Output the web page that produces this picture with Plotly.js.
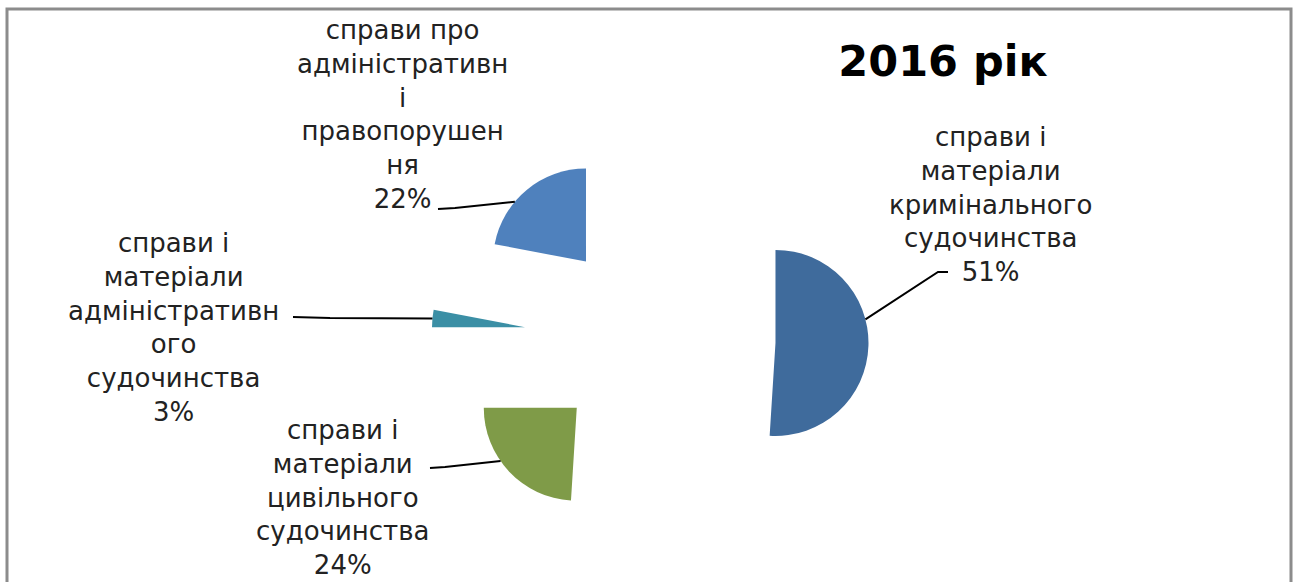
<!DOCTYPE html>
<html><head><meta charset="utf-8">
<script src="https://cdn.plot.ly/plotly-3.0.1.min.js"></script>
<style>html,body{margin:0;padding:0;background:#fff}#chart{width:1295px;height:582px}</style>
</head><body><div id="chart"></div>
<script>
// ---- data ----
const categories = [
  "справи і матеріали кримінального судочинства",
  "справи і матеріали цивільного судочинства",
  "справи і матеріали адміністративного судочинства",
  "справи про адміністративні правопорушення"
];
const labelLines = [
  ["справи і", "матеріали", "кримінального", "судочинства"],
  ["справи і", "матеріали", "цивільного", "судочинства"],
  ["справи і", "матеріали", "адміністративн", "ого", "судочинства"],
  ["справи про", "адміністративн", "і", "правопорушен", "ня"]
];
const values = [51, 24, 3, 22];
const chartTitle = "2016 рік";

// ---- styling / layout ----
const colors = ["#3F6B9C", "#7F9B48", "#3B8FA5", "#4F81BD"];
const W = 1295, H = 582;
const pulls = [1.35, 1.08, 1.35, 1.08];
const cx = 650, cy = 339, R = 93;
const maxPull = Math.max(...pulls);
const half = R * (1 + maxPull);
const domX = [(cx - half) / W, (cx + half) / W];
const domY = [1 - (cy + half) / H, 1 - (cy - half) / H];

// label placement (px) and leader settings
const labelPos = [[990, 204], [343, 497], [173, 327], [402, 115]];
const leaderStart = [[948, 272], [430, 468], [293, 317], [438, 209]];
const leaderElbow = [[938, 272], [445, 467], [330, 318], [455, 208]];
const leaderFrac = [0.41, 0.595, 0.5, 0.37];

const total = values.reduce((a, b) => a + b, 0);
const px = (x) => x / W;
const py = (y) => 1 - y / H;

const annotations = [];
const shapes = [];
let cum = 0;
values.forEach((v, i) => {
  const a0 = cum / total * 360;
  const a1 = (cum + v) / total * 360;
  cum += v;
  const mid = (a0 + a1) / 2 * Math.PI / 180;
  const scx = cx + pulls[i] * R * Math.sin(mid);
  const scy = cy - pulls[i] * R * Math.cos(mid);
  const th = (a0 + (a1 - a0) * leaderFrac[i]) * Math.PI / 180;
  const ex = scx + R * Math.sin(th);
  const ey = scy - R * Math.cos(th);
  const pct = Math.round(v / total * 100) + "%";
  annotations.push({
    xref: "paper", yref: "paper",
    x: px(labelPos[i][0]), y: py(labelPos[i][1]),
    xanchor: "center", yanchor: "middle", align: "center",
    showarrow: false,
    text: labelLines[i].concat([pct]).join("<br>"),
    font: {family: "DejaVu Sans", size: 26, color: "#222222"}
  });
  const s = leaderStart[i], e = leaderElbow[i];
  shapes.push({
    type: "path", xref: "paper", yref: "paper",
    path: `M ${px(s[0])} ${py(s[1])} L ${px(e[0])} ${py(e[1])} L ${px(ex)} ${py(ey)}`,
    line: {color: "#000000", width: 2}
  });
});

// outer border
shapes.push({
  type: "rect", xref: "paper", yref: "paper",
  x0: px(7), x1: px(1291), y0: py(600), y1: py(9),
  line: {color: "#8c8c8c", width: 3}
});

const trace = {
  type: "pie",
  values: values,
  labels: categories,
  sort: false,
  direction: "clockwise",
  rotation: 0,
  pull: pulls,
  textinfo: "none",
  hoverinfo: "label+percent",
  marker: {colors: colors, line: {width: 0}},
  domain: {x: domX, y: domY},
  showlegend: false
};

const layout = {
  width: W, height: H,
  margin: {l: 0, r: 0, t: 0, b: 0},
  paper_bgcolor: "#ffffff",
  showlegend: false,
  title: {
    text: chartTitle,
    x: px(943), xanchor: "center",
    y: py(61), yanchor: "middle", yref: "container",
    font: {family: "DejaVu Sans", size: 43, weight: "bold", color: "#000000"}
  },
  annotations: annotations,
  shapes: shapes
};

Plotly.newPlot("chart", [trace], layout, {displayModeBar: false, staticPlot: true});
</script>
</body></html>
